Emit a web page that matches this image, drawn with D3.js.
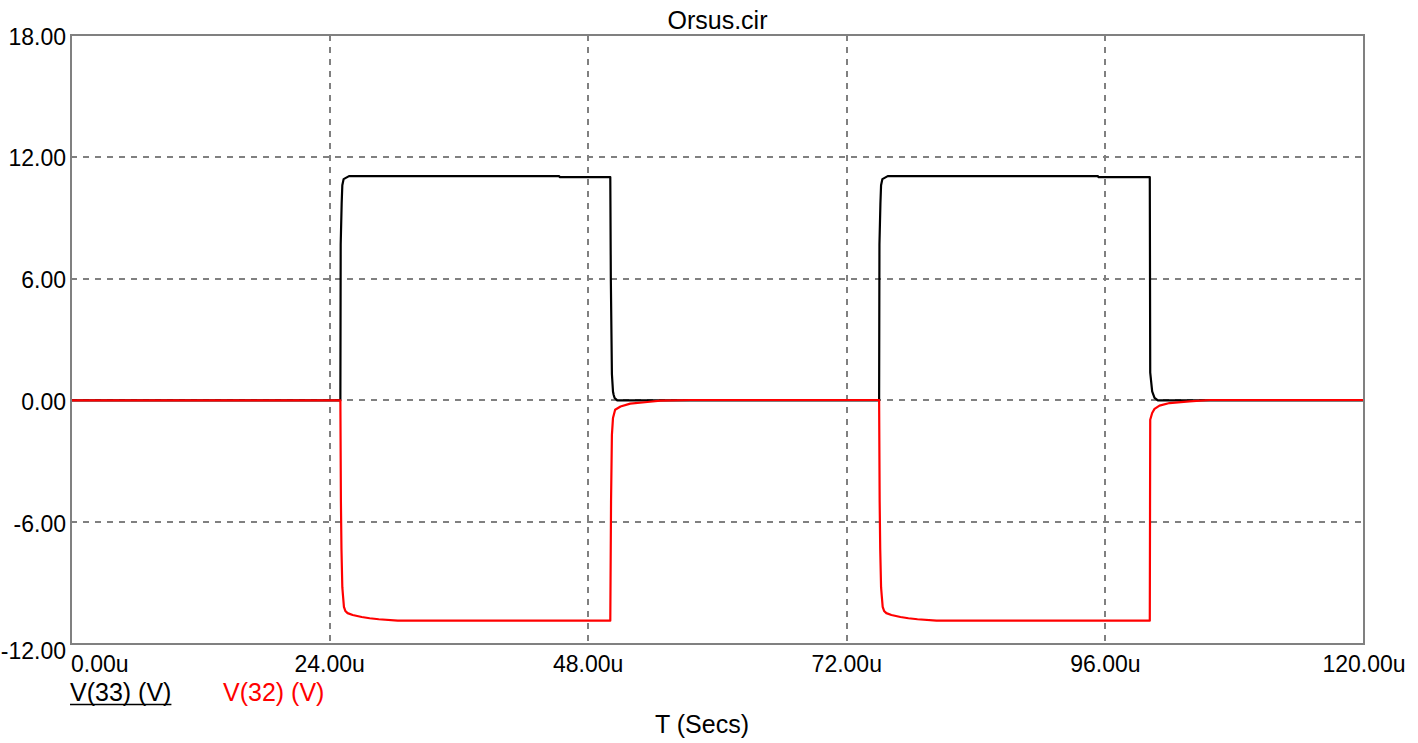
<!DOCTYPE html>
<html>
<head>
<meta charset="utf-8">
<script src="https://cdn.jsdelivr.net/npm/d3@7"></script>
<style>
  html, body { margin: 0; padding: 0; background: #ffffff; }
  svg { display: block; }
  text { font-family: "Liberation Sans", Arial, sans-serif; }
</style>
</head>
<body>
<svg id="chart" width="1418" height="743"></svg>
<script>
// ---- data ----
const chartTitle = "Orsus.cir";
const xAxisTitle = "T (Secs)";
const xTicks = [0, 24, 48, 72, 96, 120];
const xTickLabels = ["0.00u", "24.00u", "48.00u", "72.00u", "96.00u", "120.00u"];
const yTicks = [-12, -6, 0, 6, 12, 18];
const yTickLabels = ["-12.00", "-6.00", "0.00", "6.00", "12.00", "18.00"];
const seriesNames = ["V(33) (V)", "V(32) (V)"];

// V(33) (black), time in microseconds
const timeV33 = [0, 25.0, 25.03, 25.12, 25.18, 25.3, 25.8, 45.3, 45.35, 50.05, 50.1, 50.2, 50.3, 50.36, 50.45, 50.7,
                 75.0, 75.03, 75.12, 75.18, 75.3, 75.8, 95.3, 95.35, 100.12, 100.16, 100.34, 100.56, 100.87, 120];
const valuesV33 = [0, 0, 7.7, 9.7, 10.6, 10.9, 11.05, 11.05, 11.0, 11.0, 6.0, 1.3, 0.44, 0.28, 0.12, 0,
                   0, 7.7, 9.7, 10.6, 10.9, 11.05, 11.05, 11.0, 11.0, 1.37, 0.44, 0.12, 0, 0];

// V(32) (red)
const timeV32 = [0, 25.0, 25.05, 25.1, 25.18, 25.24, 25.33, 25.46, 25.67, 26.14, 26.98, 27.72, 28.56, 30.33,
                 50.05, 50.12, 50.2, 50.3, 50.5, 51.0, 51.9, 53.5, 54.7, 57.5,
                 75.0, 75.05, 75.1, 75.18, 75.24, 75.33, 75.46, 75.67, 76.14, 76.98, 77.72, 78.56, 80.33,
                 100.12, 100.16, 100.34, 100.56, 101.02, 101.95, 103.8, 105.7, 120];
const valuesV32 = [0, 0, -5, -7.3, -9.2, -9.6, -10.17, -10.37, -10.48, -10.57, -10.67, -10.73, -10.78, -10.85,
                   -10.85, -5, -1.7, -0.87, -0.46, -0.3, -0.16, -0.08, -0.01, 0.02,
                   0.02, -5, -7.3, -9.2, -9.6, -10.17, -10.37, -10.48, -10.57, -10.67, -10.73, -10.78, -10.85,
                   -10.85, -0.95, -0.62, -0.42, -0.26, -0.13, -0.05, 0.02, 0.02];

// ---- layout ----
const W = 1418, H = 743;
const m = { left: 71, right: 54, top: 35, bottom: 99 };
const pw = W - m.left - m.right, ph = H - m.top - m.bottom;
const gridColor = "#808080";
const numSize = 23;
const textSize = 25;

const svg = d3.select("#chart");
const x = d3.scaleLinear().domain([0, 120]).range([m.left, m.left + pw]);
const y = d3.scaleLinear().domain([-12, 18]).range([m.top + ph, m.top]);

// grid
const grid = svg.append("g").attr("shape-rendering", "crispEdges");
grid.selectAll("line.h").data(yTicks.slice(1, -1)).enter().append("line")
  .attr("x1", m.left).attr("x2", m.left + pw)
  .attr("y1", d => Math.round(y(d))).attr("y2", d => Math.round(y(d)))
  .attr("stroke", gridColor).attr("stroke-width", 2).attr("stroke-dasharray", "6,6");
grid.selectAll("line.v").data(xTicks.slice(1, -1)).enter().append("line")
  .attr("y1", m.top).attr("y2", m.top + ph)
  .attr("x1", d => Math.round(x(d))).attr("x2", d => Math.round(x(d)))
  .attr("stroke", gridColor).attr("stroke-width", 2).attr("stroke-dasharray", "6,6");

// clip
svg.append("clipPath").attr("id", "clip").append("rect")
  .attr("x", m.left).attr("y", m.top).attr("width", pw).attr("height", ph);

const line = d3.line().x(d => x(d[0])).y(d => y(d[1]));
const dataV33 = timeV33.map((t, i) => [t, valuesV33[i]]);
const dataV32 = timeV32.map((t, i) => [t, valuesV32[i]]);

const plot = svg.append("g").attr("clip-path", "url(#clip)");
plot.append("path").datum(dataV33).attr("d", line)
  .attr("fill", "none").attr("stroke", "#000000").attr("stroke-width", 2.2).attr("stroke-linejoin", "round");
plot.append("path").datum(dataV32).attr("d", line)
  .attr("fill", "none").attr("stroke", "#ff0000").attr("stroke-width", 2.2).attr("stroke-linejoin", "round");

// frame
svg.append("rect").attr("x", m.left).attr("y", m.top).attr("width", pw).attr("height", ph)
  .attr("fill", "none").attr("stroke", gridColor).attr("stroke-width", 2)
  .attr("shape-rendering", "crispEdges");

// y labels
svg.append("g").selectAll("text").data(yTicks).enter().append("text")
  .attr("x", m.left - 5)
  .attr("y", (d, i) => y(d) + (i === 0 ? 7 : 1.5))
  .attr("text-anchor", "end").attr("dominant-baseline", "central")
  .attr("font-size", numSize).attr("fill", "#000")
  .text((d, i) => yTickLabels[i]);

// x labels
svg.append("g").selectAll("text").data(xTicks).enter().append("text")
  .attr("x", d => x(d))
  .attr("y", m.top + ph + 28)
  .attr("text-anchor", (d, i) => i === 0 ? "start" : "middle")
  .attr("font-size", numSize).attr("fill", "#000")
  .text((d, i) => xTickLabels[i]);

// title
svg.append("text").attr("x", m.left + pw / 2).attr("y", 29)
  .attr("text-anchor", "middle").attr("font-size", textSize).attr("fill", "#000")
  .text(chartTitle);

// legend
const leg1 = svg.append("text").attr("x", 70).attr("y", 701)
  .attr("font-size", textSize).attr("fill", "#000").text(seriesNames[0]);
const bb = leg1.node().getBBox();
svg.append("line").attr("x1", 70).attr("x2", 70 + bb.width).attr("y1", 704.5).attr("y2", 704.5)
  .attr("stroke", "#000").attr("stroke-width", 1.5);
svg.append("text").attr("x", 223).attr("y", 701)
  .attr("font-size", textSize).attr("fill", "#ff0000").text(seriesNames[1]);

// x axis title
svg.append("text").attr("x", 702).attr("y", 733)
  .attr("text-anchor", "middle").attr("font-size", textSize).attr("fill", "#000")
  .text(xAxisTitle);
</script>
</body>
</html>
